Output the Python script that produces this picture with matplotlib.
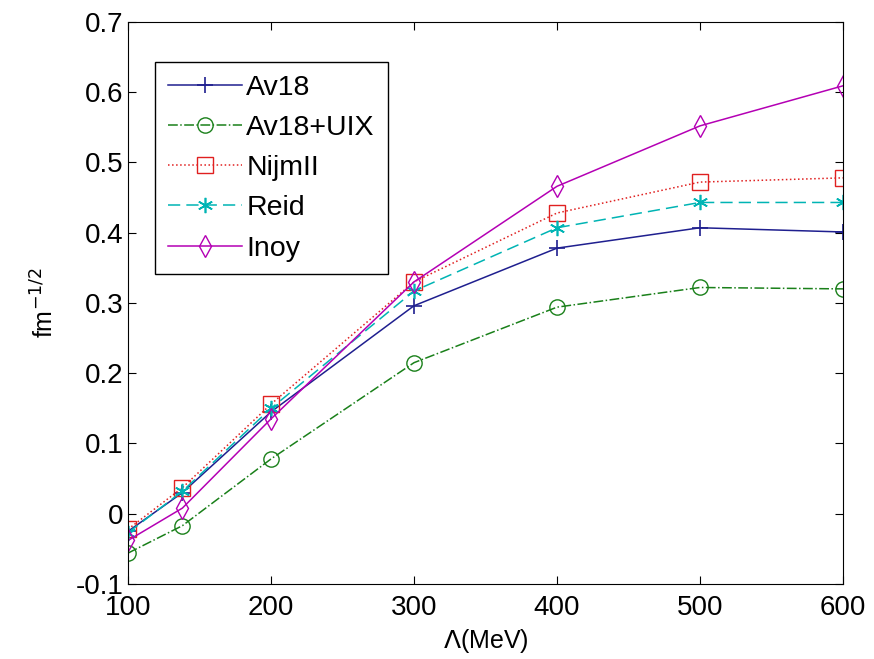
import numpy as np
import matplotlib.pyplot as plt

plt.rcParams['font.family'] = ['Liberation Sans', 'DejaVu Sans']

# cutoff values (MeV)
cutoff = [100, 138, 200, 300, 400, 500, 600]

av18 = [-0.025, 0.030, 0.145, 0.296, 0.378, 0.407, 0.401]
av18_uix = [-0.056, -0.017, 0.078, 0.215, 0.294, 0.322, 0.320]
nijm2 = [-0.022, 0.037, 0.156, 0.330, 0.428, 0.472, 0.478]
reid = [-0.027, 0.032, 0.150, 0.317, 0.407, 0.443, 0.443]
inoy = [-0.038, 0.008, 0.135, 0.330, 0.466, 0.552, 0.609]

fig = plt.figure(figsize=(8.74, 6.59), dpi=100)
ax = fig.add_axes([0.1465, 0.1138, 0.818, 0.853])

ax.plot(cutoff, av18, '-', marker='+', color='#1f1f8f', ms=11, mew=1.2, lw=1.1, label='Av18')
ax.plot(cutoff, av18_uix, '-.', marker='o', color='#1a801a', ms=11, mfc='none', lw=1.1, label='Av18+UIX')
ax.plot(cutoff, nijm2, ':', marker='s', color='#e02020', ms=11, mfc='none', lw=1.1, label='NijmII')
ax.plot(cutoff, reid, '--', marker=(6, 2, 0), color='#00b4b4', ms=11, mew=1.2, lw=1.1, label='Reid',
        dashes=(8, 4))
ax.plot(cutoff, inoy, '-', marker='d', color='#b400b4', ms=11, mfc='none', lw=1.1, label='Inoy')

ax.set_xlim(100, 600)
ax.set_ylim(-0.1, 0.7)
ax.set_xticks([100, 200, 300, 400, 500, 600])
ax.set_yticks(np.arange(-0.1, 0.71, 0.1))
ax.set_yticklabels(['-0.1', '0', '0.1', '0.2', '0.3', '0.4', '0.5', '0.6', '0.7'])
ax.tick_params(direction='in', top=True, right=True, labelsize=20, length=6)
ax.tick_params(axis='x', pad=8)
ax.set_xlabel(r'$\mathrm{\Lambda}$(MeV)', fontsize=18, labelpad=4)
ax.set_ylabel(r'fm$^{-1/2}$', fontsize=18, labelpad=12)

leg = ax.legend(loc='upper left', bbox_to_anchor=(0.038, 0.929), borderaxespad=0,
                fontsize=20.5, fancybox=False, edgecolor='black', framealpha=1,
                handlelength=2.6, borderpad=0.45, labelspacing=0.5, handletextpad=0.15)
leg.get_frame().set_linewidth(1.0)

fig.savefig('out.png', dpi=100)
